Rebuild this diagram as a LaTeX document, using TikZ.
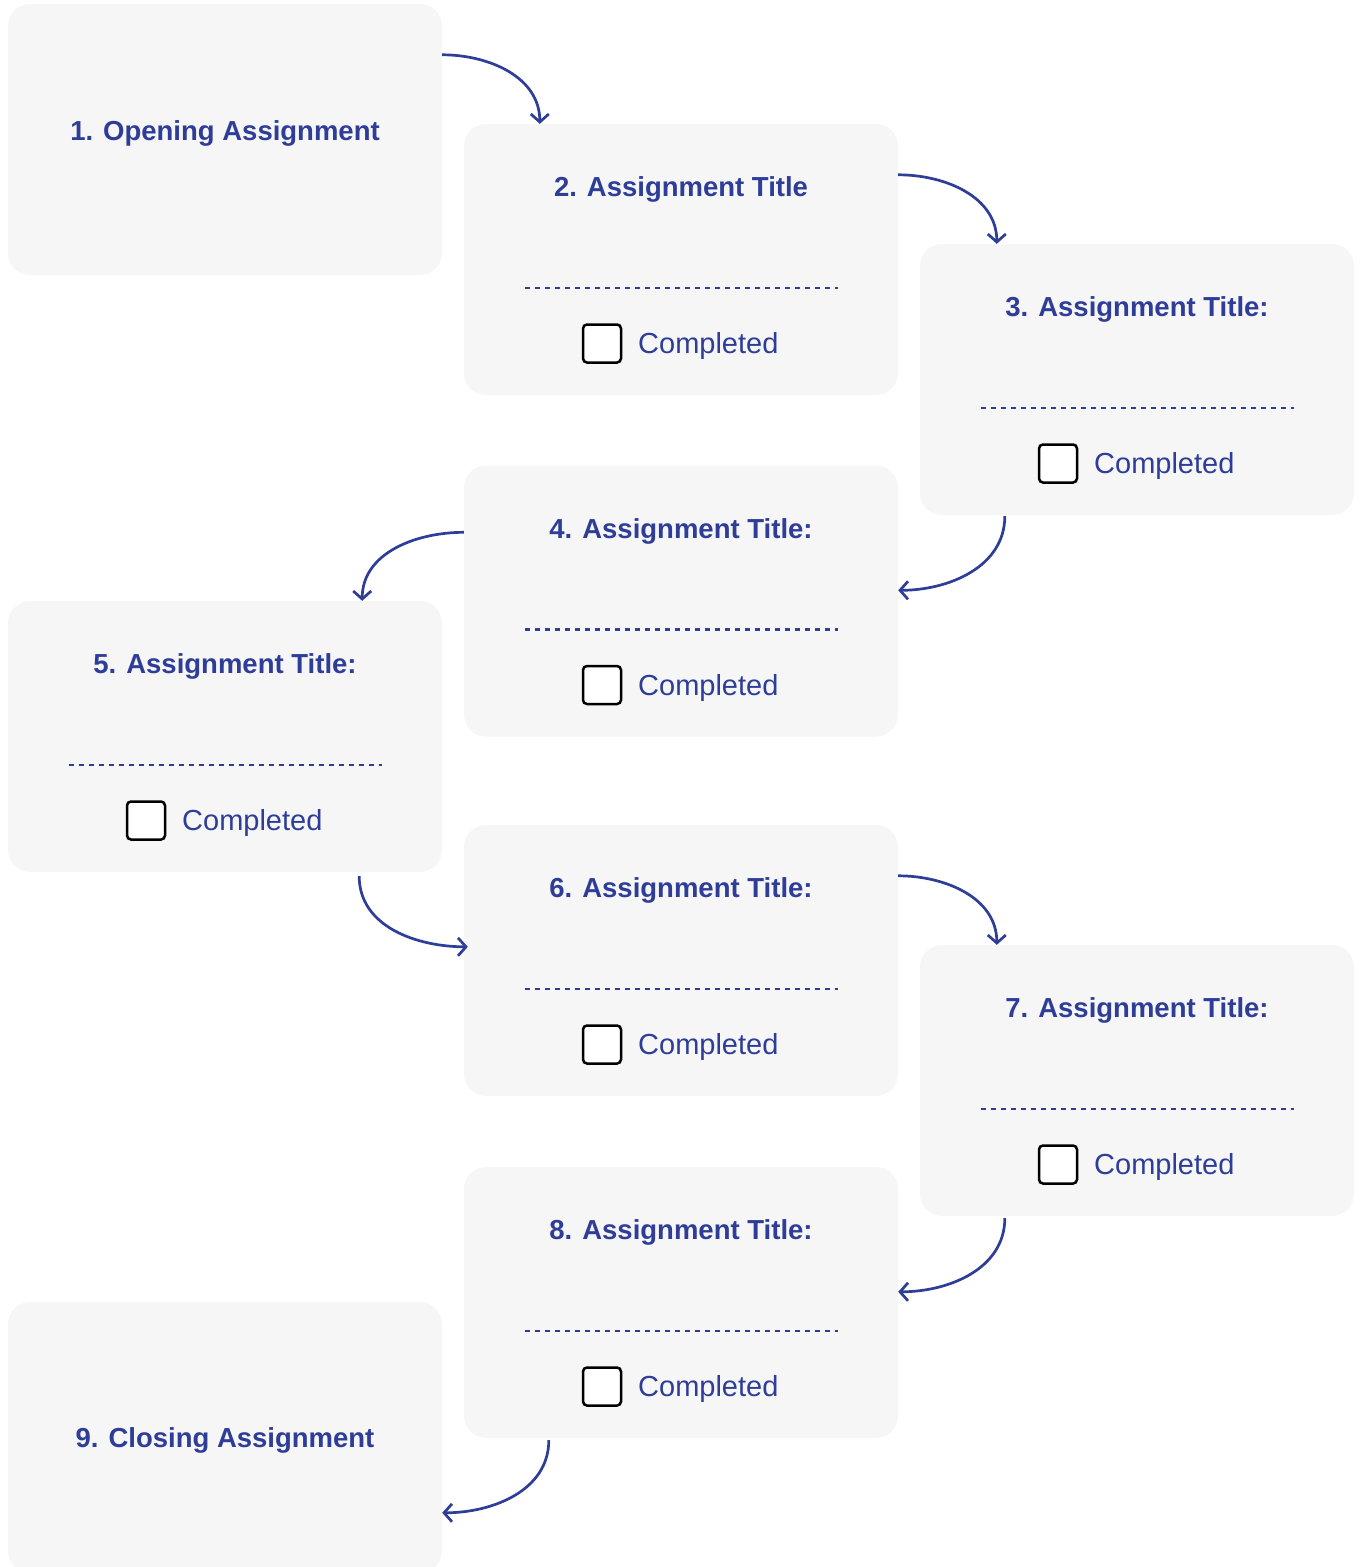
\documentclass[tikz,border=0pt]{standalone}
\usepackage{fontspec}
\setmainfont{Liberation Sans}
\usetikzlibrary{arrows.meta}
\definecolor{inkblue}{HTML}{2E3D98}
\definecolor{cardgray}{HTML}{F6F6F6}
\tikzset{
  card/.style={fill=cardgray, rounded corners=22pt, minimum width=434pt, minimum height=271pt, inner sep=0pt},
  heading/.style={text=inkblue, font=\fontsize{27.5}{34}\selectfont\bfseries, anchor=base, inner sep=0pt},
  donetext/.style={text=inkblue, font=\fontsize{29}{36}\selectfont, anchor=base west, inner sep=0pt},
  tickbox/.style={draw=black, line width=2.5pt, fill=white, rounded corners=4pt, minimum size=38pt, inner sep=0pt},
  divider/.style={draw=inkblue, line width=2.5pt, dash pattern=on 5pt off 5pt},
  flow/.style={draw=inkblue, line width=2.7pt, -{Straight Barb[length=8pt,width=18pt,line width=2.7pt]}},
}
\begin{document}
\begin{tikzpicture}[x=1pt,y=-1pt]
\useasboundingbox (0,0) rectangle (1361,1567);
% opening and closing cards
\node[card] (b1) at (225,139.5) {};
\node[card] (b9) at (225,1437.5) {};
\node[heading] (t1) at (225,140) {1.\hspace{10pt}Opening Assignment};
\node[heading] (t9) at (225,1447) {9.\hspace{10pt}Closing Assignment};
% cards with a check box
\foreach \n/\x/\y/\title in {2/681/259.5/Assignment Title, 3/1137/379.5/Assignment Title:,
    4/681/601/Assignment Title:, 5/225/736.5/Assignment Title:, 6/681/960.5/Assignment Title:,
    7/1137/1080.5/Assignment Title:, 8/681/1302.5/Assignment Title:} {
  \node[card] (b\n) at (\x,\y) {};
  \node[heading] (t\n) at (\x,\y-63) {\n.\hspace{10pt}\title};
  \draw[divider] (\x-156,\y+28.5) -- (\x+157,\y+28.5);
  \node[tickbox] (c\n) at (\x-79,\y+84) {};
  \node[donetext] (d\n) at (\x-43,\y+94) {Completed};
}
% connectors
\draw[flow] ([yshift=-51pt]b1.north east) to[out=0,in=90] ([xshift=76pt]b2.north west);
\draw[flow] ([yshift=-51pt]b2.north east) to[out=0,in=90] ([xshift=77pt]b3.north west);
\draw[flow] ([xshift=85pt,yshift=-1pt]b3.south west) to[out=-90,in=0] ([yshift=-125pt]b4.north east);
\draw[flow] ([yshift=-67pt]b4.north west) to[out=180,in=90] ([xshift=-80pt]b5.north east);
\draw[flow] ([xshift=-83pt,yshift=-4pt]b5.south east) to[out=-90,in=180] ([xshift=4pt,yshift=-122pt]b6.north west);
\draw[flow] ([yshift=-51pt]b6.north east) to[out=0,in=90] ([xshift=77pt]b7.north west);
\draw[flow] ([xshift=85pt,yshift=-2pt]b7.south west) to[out=-90,in=0] ([yshift=-125pt]b8.north east);
\draw[flow] ([xshift=85pt,yshift=-2pt]b8.south west) to[out=-90,in=0] ([yshift=-211pt]b9.north east);
\end{tikzpicture}
\end{document}
